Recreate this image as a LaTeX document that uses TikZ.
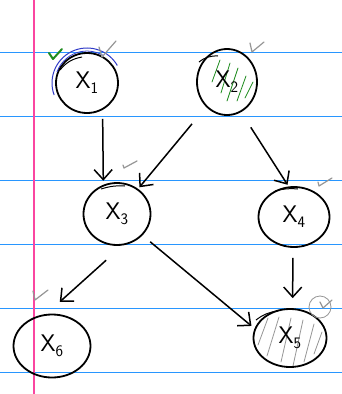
\documentclass[tikz,border=0pt]{standalone}
\usetikzlibrary{shapes.geometric,arrows.meta}
\definecolor{ruleblue}{RGB}{40,150,255}
\definecolor{marginpink}{RGB}{250,70,160}
\definecolor{tickgray}{RGB}{150,150,150}
\definecolor{hatchgreen}{RGB}{30,140,30}
\definecolor{penblue}{RGB}{50,60,200}
\newcommand\varlab[2]{#1\raisebox{-5pt}{\fontsize{16}{16}\selectfont #2}}
\tikzset{
  var/.style={ellipse, draw, line width=1.8pt, inner sep=0pt, font=\sffamily\fontsize{24}{24}\selectfont},
  edge/.style={line width=1.5pt, -{Straight Barb[length=10pt,width=18pt,line width=1.5pt]}},
  rule/.style={ruleblue, line width=1pt},
  tick/.style={tickgray, line width=1.2pt, line cap=round, line join=round},
  ghatch/.style={hatchgreen, line width=0.8pt, line cap=round},
  shatch/.style={tickgray, line width=0.8pt, line cap=round}
}
\begin{document}
\begin{tikzpicture}[x=1pt,y=-1pt]
\useasboundingbox (0,0) rectangle (342,394);
\fill[white] (0,0) rectangle (342,394);
% ruled paper
\foreach \y in {52,116,180,244,308,372} \draw[rule] (0,\y) -- (342,\y);
\draw[marginpink, line width=1.2pt] (34,0) -- (34,394);

% hatching behind nodes
\foreach \a/\b/\c/\d in {220/60/212/82, 230/63/221/93, 238/68/227/101, 246/76/237/101, 253/82/245/98}
  \draw[ghatch] (\a,\b) -- (\c,\d);
\foreach \a/\b/\c/\d in {268/318/258/345, 279/317/267/356, 291/318/281/362, 303/320/293/366, 314/324/304/362, 322/332/314/354}
  \draw[shatch] (\a,\b) -- (\c,\d);

% nodes
\node[var, minimum width=62pt, minimum height=60pt] (X1) at (87,83) {\varlab{X}{1}};
\node[var, minimum width=60pt, minimum height=66pt] (X2) at (227,82) {\varlab{X}{2}};
\node[var, minimum width=67pt, minimum height=62pt] (X3) at (117,214) {\varlab{X}{3}};
\node[var, minimum width=71pt, minimum height=60pt] (X4) at (294,217) {\varlab{X}{4}};
\node[var, minimum width=77pt, minimum height=63pt] (X6) at (52,346) {\varlab{X}{6}};
\node[var, minimum width=73pt, minimum height=58pt] (X5) at (290,338) {\varlab{X}{5}};

% extra pen strokes on outlines
\draw[line width=1pt] (60,70) to[bend left=20] (82,57);
\draw[line width=1pt] (199,62) to[bend left=20] (218,56);
\draw[line width=1pt] (101,189) to[bend left=10] (125,186);
\draw[line width=1pt] (275,191) to[bend left=10] (298,189);
\draw[line width=1pt] (256,320) to[bend left=15] (278,311);

% blue pen arcs round X1
\draw[penblue, line width=1pt] (X1.center) ++(200:35pt) arc[start angle=200, end angle=30, radius=35pt];
\draw[penblue, line width=0.8pt] (X1.center) ++(160:32pt) arc[start angle=160, end angle=60, radius=32pt];

% connectors
\draw[edge, shorten <=9pt, shorten >=4pt] (X1.-60) -- (X3.115);
\draw[edge, shorten <=22pt, shorten >=2pt] (X2.-130) -- (X3.50);
\draw[edge, shorten <=18pt, shorten >=2pt] (X2.-65) -- (X4.100);
\draw[edge, shorten <=22pt, shorten >=18pt] (X3.-80) -- (X6.100);
\draw[edge, shorten <=10pt, shorten >=4pt] (X3.-40) -- (X5.165);
\draw[edge, shorten <=10pt, shorten >=10pt] (X4.-92) -- (X5.85);

% checks
\draw[hatchgreen, line width=2pt, line cap=round, line join=round] (49,53) -- (53,59) -- (62,49);
\draw[tick] (99,47) -- (102,57) -- (116,41);
\draw[tick] (250,43) -- (252,52) -- (264,42);
\draw[tick] (123,165) -- (124,168) -- (137,161);
\draw[tick] (318,182) -- (319,186) -- (332,178);
\draw[tick] (33,291) -- (35,300) -- (48,290);
\draw[tick] (320,302) -- (323,308) -- (332,300);
\draw[tickgray, line width=0.8pt] (320,307) circle[radius=11pt];
\end{tikzpicture}
\end{document}
